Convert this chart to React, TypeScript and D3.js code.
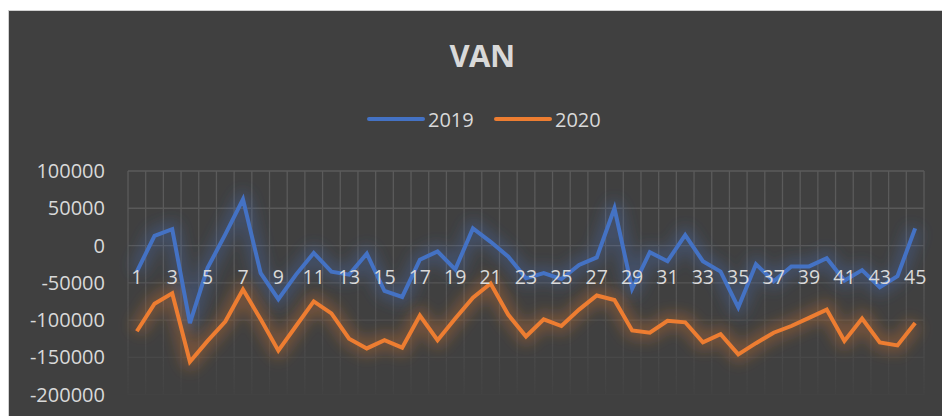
import React from 'react';
import * as d3 from 'd3';

// category labels 1..45 (days)
const categories = ['1','2','3','4','5','6','7','8','9','10','11','12','13','14','15','16','17','18','19','20','21','22','23','24','25','26','27','28','29','30','31','32','33','34','35','36','37','38','39','40','41','42','43','44','45'];

const values2019 = [-35000, 13000, 22000, -104000, -30000, 15000, 62000, -37000, -72000, -39000, -10000, -35000, -39000, -11000, -61000, -69000, -19000, -8000, -32000, 23000, 5000, -15000, -44000, -37000, -45000, -26000, -16000, 50000, -58000, -9000, -21000, 14000, -21000, -35000, -83000, -25000, -48000, -28000, -28000, -17000, -47000, -33000, -56000, -41000, 23000];

const values2020 = [-115000, -78000, -64000, -156000, -128000, -102000, -59000, -99000, -141000, -108000, -75000, -91000, -125000, -138000, -127000, -137000, -94000, -127000, -98000, -70000, -51000, -93000, -122000, -99000, -108000, -86000, -67000, -73000, -114000, -117000, -101000, -103000, -130000, -119000, -146000, -131000, -117000, -108000, -97000, -86000, -128000, -98000, -130000, -134000, -104000];

const yTicks = [100000, 50000, 0, -50000, -100000, -150000, -200000];

const series = [
  {name: '2019', values: values2019, color: '#4472C4', legendX: 369},
  {name: '2020', values: values2020, color: '#ED7D31', legendX: 496},
];

const W = 942, H = 416;
const margin = {left: 128, right: 18, top: 171, bottom: 21};
const textColor = '#d9d9d9';
const gridColor = '#5b5b5b';
const font = "'Open Sans', sans-serif";

export default function App() {
  const x = d3.scaleBand().domain(categories).range([margin.left, W - margin.right]);
  const y = d3.scaleLinear().domain([-200000, 100000]).range([H - margin.bottom - 0.4, margin.top]);
  const cx = (c: string) => (x(c) as number) + x.bandwidth() / 2;

  const line = d3.line<number>()
    .x((d, i) => cx(categories[i]))
    .y(d => y(d));

  const bounds = categories.map(c => x(c) as number).concat([W - margin.right]);

  return (
    <svg width={W} height={H} style={{position: 'absolute', left: 0, top: 0}}>
      <defs>
        <filter id="glow" x="-10%" y="-30%" width="120%" height="160%">
          <feGaussianBlur stdDeviation="7" />
        </filter>
        <linearGradient id="fade" gradientUnits="userSpaceOnUse" x1="0" y1={margin.top} x2="0" y2={H - margin.bottom}>
          <stop offset="0" stopColor="#fff" stopOpacity="1" />
          <stop offset="0.45" stopColor="#fff" stopOpacity="0.9" />
          <stop offset="0.75" stopColor="#fff" stopOpacity="0.45" />
          <stop offset="1" stopColor="#fff" stopOpacity="0.1" />
        </linearGradient>
        <mask id="gridMask">
          <rect x={0} y={0} width={W} height={H} fill="url(#fade)" />
        </mask>
      </defs>
      <rect x={0} y={0} width={W} height={H} fill="#fff" />
      <rect x={8.5} y={10.5} width={W} height={H} fill="#404040" stroke="#d0d0d0" strokeWidth={1} />

      <text x={482} y={67} textAnchor="middle" fill={textColor} fontFamily={font} fontWeight="bold" fontSize={31} letterSpacing={-0.5}>VAN</text>

      {series.map(s => (
        <g key={s.name}>
          <line x1={s.legendX} x2={s.legendX + 54} y1={119} y2={119} stroke={s.color} strokeWidth={4} strokeLinecap="round" />
          <text x={s.legendX + 59} y={126.5} fill={textColor} fontFamily={font} fontSize={20}>{s.name}</text>
        </g>
      ))}

      <g mask="url(#gridMask)">
        {yTicks.map(t => (
          <line key={t} x1={margin.left} x2={W - margin.right} y1={y(t)} y2={y(t)} stroke={gridColor} strokeWidth={1.3} />
        ))}
        {bounds.map((b, i) => (
          <line key={i} x1={b} x2={b} y1={margin.top} y2={y(-200000)} stroke={gridColor} strokeWidth={1.3} />
        ))}
      </g>

      {yTicks.map(t => (
        <text key={t} x={105} y={y(t) + 7} textAnchor="end" fill={textColor} fontFamily={font} fontSize={20}>{t}</text>
      ))}

      {series.map(s => (
        <path key={'g' + s.name} d={line(s.values) as string} fill="none" stroke={s.color} strokeWidth={16} strokeOpacity={0.3} strokeLinejoin="round" filter="url(#glow)" />
      ))}

      {series.map(s => (
        <path key={s.name} d={line(s.values) as string} fill="none" stroke={s.color} strokeWidth={4} strokeLinejoin="miter" />
      ))}

      {categories.filter((c, i) => i % 2 === 0).map(c => (
        <text key={c} x={cx(c)} y={284} textAnchor="middle" fill={textColor} fontFamily={font} fontSize={19.5}>{c}</text>
      ))}
    </svg>
  );
}
